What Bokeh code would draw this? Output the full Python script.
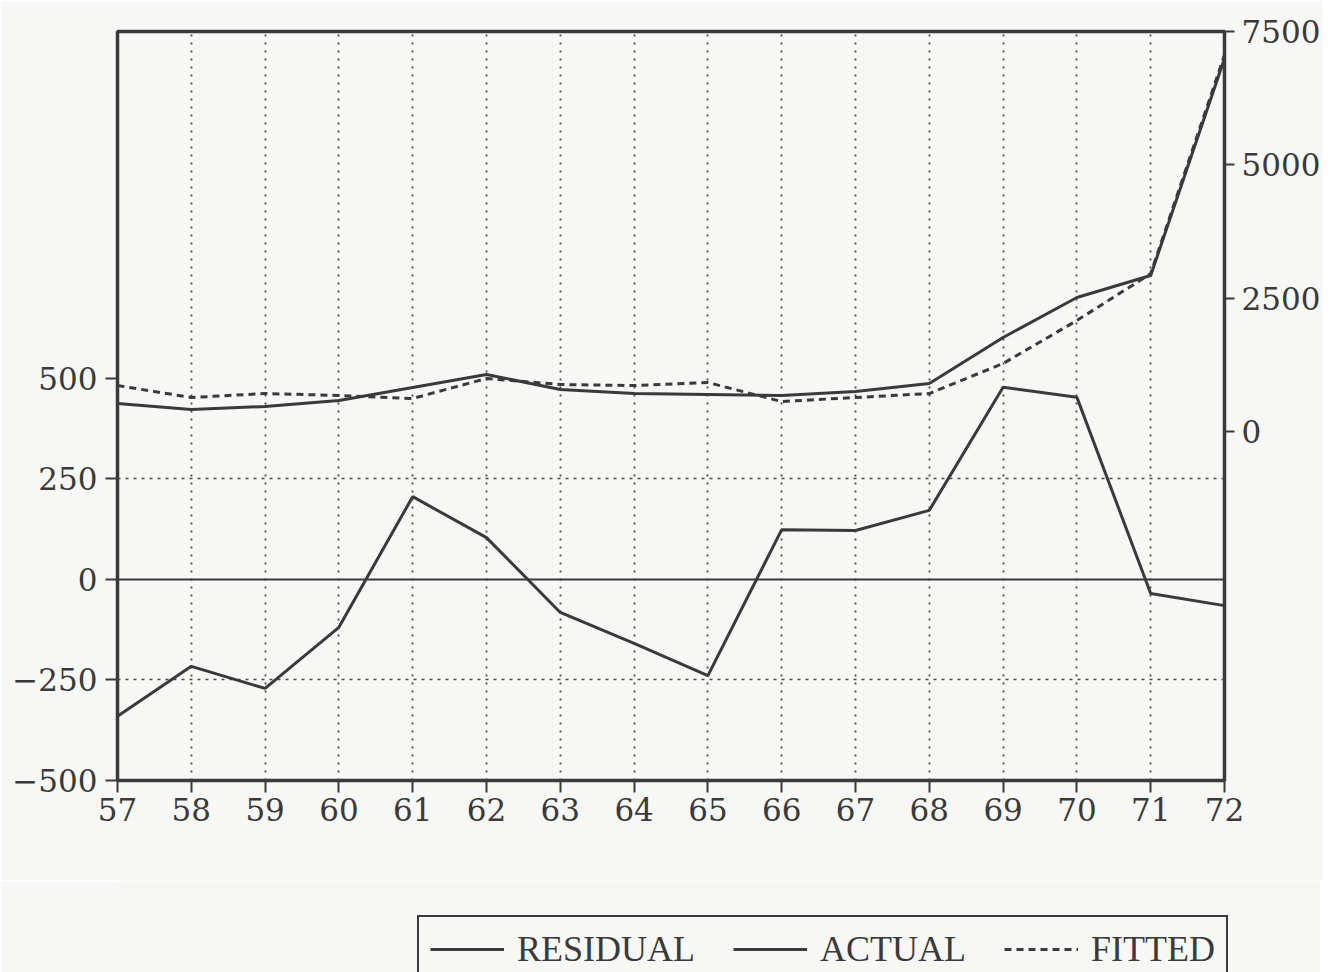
from bokeh.plotting import figure
from bokeh.models import (Range1d, LinearAxis, FixedTicker, Legend, LegendItem, Span)
from bokeh.layouts import column
from bokeh.embed import file_html
from bokeh.resources import INLINE

years = list(range(57, 73))
residual = [-340, -216, -271, -119, 206, 104, -82, -159, -239, 124, 122, 172, 478, 453, -35, -65]
actual = [525, 412, 469, 581, 825, 1069, 788, 712, 694, 675, 750, 900, 1763, 2513, 2925, 6994]
fitted = [862, 637, 712, 675, 619, 994, 881, 862, 919, 562, 637, 712, 1275, 2081, 2960, 7060]
labels = ["RESIDUAL", "ACTUAL", "FITTED"]

left_ticks = [-500, -250, 0, 250, 500]
right_ticks = [0, 2500, 5000, 7500]
grid_ticks = [-250, 250]

INK = "#3a3a3a"
BG = "#f7f7f5"
TICK_FONT = "DejaVu Serif"
LEG_FONT = "Liberation Serif"

p = figure(frame_width=1107, frame_height=749,
           min_border_left=117, min_border_right=96,
           min_border_top=31, min_border_bottom=100,
           x_range=Range1d(57, 72), y_range=Range1d(-500, 1363),
           output_backend="svg", toolbar_location=None,
           background_fill_color=BG, border_fill_color=BG)
p.extra_y_ranges = {"r": Range1d(-6544, 7500)}

p.outline_line_color = INK
p.outline_line_width = 3.5
p.outline_line_alpha = 1.0

# axes
p.xaxis.ticker = FixedTicker(ticks=years)
p.yaxis.ticker = FixedTicker(ticks=left_ticks)
raxis = LinearAxis(y_range_name="r", ticker=FixedTicker(ticks=right_ticks))
p.add_layout(raxis, "right")

for ax in [p.xaxis[0], p.yaxis[0], raxis]:
    ax.axis_line_color = None
    ax.major_tick_in = 0
    ax.major_tick_out = 12
    ax.major_tick_line_color = INK
    ax.major_tick_line_width = 2
    ax.minor_tick_line_color = None
    ax.major_label_text_font = TICK_FONT
    ax.major_label_text_font_size = "31px"
    ax.major_label_text_color = INK
p.xaxis.major_label_standoff = 5
p.yaxis.major_label_standoff = 8
raxis.major_tick_out = 10
raxis.major_label_standoff = 7

# grids
p.xgrid.ticker = FixedTicker(ticks=years[1:-1])
p.xgrid.grid_line_color = "#4a4a4a"
p.xgrid.grid_line_dash = "2 6"
p.xgrid.grid_line_width = 1.8
p.ygrid.ticker = FixedTicker(ticks=grid_ticks)
p.ygrid.grid_line_color = "#4a4a4a"
p.ygrid.grid_line_dash = "3 5"
p.ygrid.grid_line_width = 1.6

zero = Span(location=0, dimension="width", line_color=INK, line_width=2)
p.add_layout(zero)

p.line(years, residual, line_color=INK, line_width=3)
p.line(years, actual, y_range_name="r", line_color=INK, line_width=3)
p.line(years, fitted, y_range_name="r", line_color=INK, line_width=3, line_dash="7 5")

# legend strip below the chart (its own small figure, same series styles)
p2 = figure(frame_width=1320, frame_height=92,
            min_border_left=0, min_border_right=0, min_border_top=0, min_border_bottom=0,
            x_range=Range1d(0, 1), y_range=Range1d(0, 1),
            x_axis_location=None, y_axis_location=None,
            output_backend="svg", toolbar_location=None,
            background_fill_color=BG, border_fill_color=BG)
p2.outline_line_color = None
p2.grid.visible = False
l_res = p2.line(years, residual, line_color=INK, line_width=3)
l_act = p2.line(years, actual, line_color=INK, line_width=3)
l_fit = p2.line(years, fitted, line_color=INK, line_width=3, line_dash="7 5")

legend = Legend(items=[LegendItem(label=labels[0], renderers=[l_res]),
                       LegendItem(label=labels[1], renderers=[l_act]),
                       LegendItem(label=labels[2], renderers=[l_fit])],
                orientation="horizontal", location=(417, -11),
                glyph_width=74, glyph_height=20, label_standoff=13,
                spacing=38, padding=11, margin=0,
                label_text_font=LEG_FONT, label_text_font_size="36px",
                label_text_color=INK,
                border_line_color=INK, border_line_width=2.5, border_line_alpha=1.0,
                background_fill_color=BG, background_fill_alpha=1.0)
p2.add_layout(legend, "center")

open("out.html", "w").write(file_html(column(p, p2, spacing=0), INLINE))
